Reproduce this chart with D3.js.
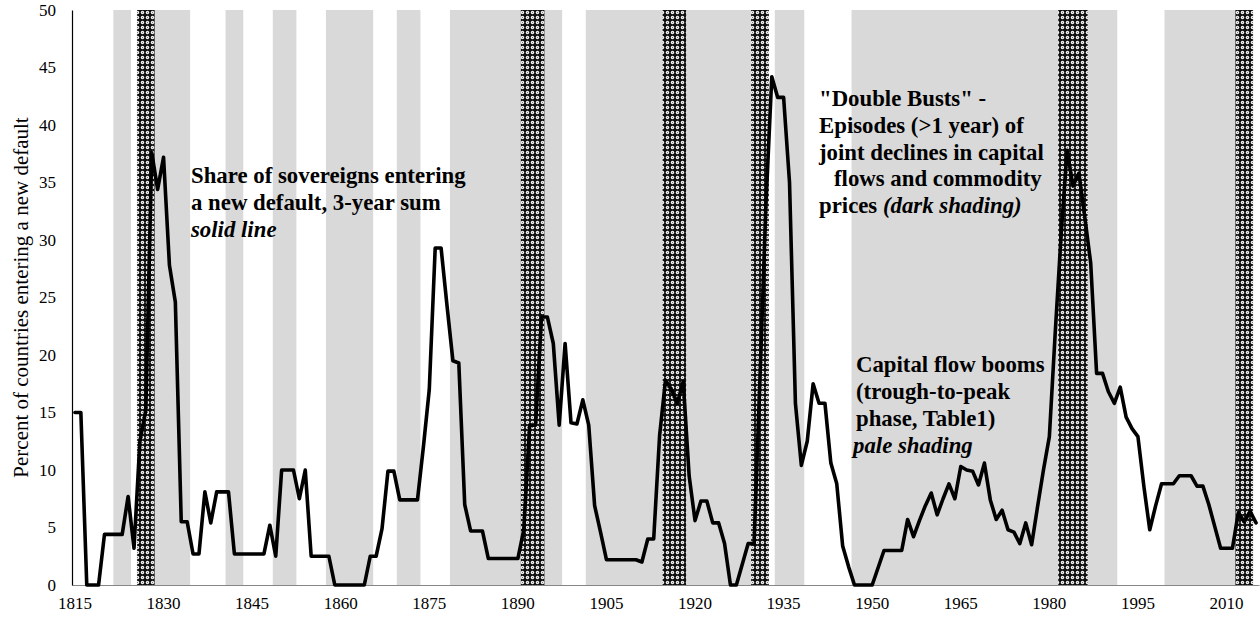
<!DOCTYPE html>
<html>
<head>
<meta charset="utf-8">
<script src="https://cdn.jsdelivr.net/npm/d3@7"></script>
<style>
  html, body { margin: 0; padding: 0; background: #fff; }
  svg { display: block; }
  text { font-family: "Liberation Serif", "Times New Roman", serif; fill: #000; }
</style>
</head>
<body>
<svg id="chart" width="1260" height="621"></svg>
<script>
// ---------------- data ----------------
const firstYear = 1815;
// Share of sovereigns entering a new default, 3-year sum (percent), 1815..2015
const defaultShare = [
  15, 15, 0, 0, 0, 4.4, 4.4, 4.4, 4.4, 7.7,            // 1815-1824
  3.2, 12.5, 15.2, 37.6, 34.4, 37.2, 27.8, 24.6, 5.5, 5.5, // 1825-1834
  2.7, 2.7, 8.1, 5.4, 8.1, 8.1, 8.1, 2.7, 2.7, 2.7,    // 1835-1844
  2.7, 2.7, 2.7, 5.2, 2.5, 10, 10, 10, 7.5, 10,        // 1845-1854
  2.5, 2.5, 2.5, 2.5, 0, 0, 0, 0, 0, 0,                // 1855-1864
  2.5, 2.5, 4.9, 9.9, 9.9, 7.4, 7.4, 7.4, 7.4, 12,     // 1865-1874
  17, 29.3, 29.3, 24.3, 19.5, 19.3, 7.0, 4.7, 4.7, 4.7, // 1875-1884
  2.3, 2.3, 2.3, 2.3, 2.3, 2.3, 4.8, 13.9, 13.9, 23.3, // 1885-1894
  23.3, 21, 13.9, 21, 14.1, 14, 16.1, 13.9, 6.9, 4.6,  // 1895-1904
  2.2, 2.2, 2.2, 2.2, 2.2, 2.2, 2.0, 4.0, 4.0, 13,     // 1905-1914
  17.8, 17, 15.8, 17.7, 9.5, 5.6, 7.3, 7.3, 5.4, 5.4,  // 1915-1924
  3.6, 0, 0, 1.8, 3.6, 3.6, 18, 33, 44.2, 42.4,        // 1925-1934
  42.4, 35, 15.8, 10.4, 12.5, 17.5, 15.8, 15.8, 10.6, 8.8, // 1935-1944
  3.4, 1.6, 0, 0, 0, 0, 1.5, 3.0, 3.0, 3.0,            // 1945-1954
  3.0, 5.7, 4.2, 5.6, 6.9, 8.0, 6.1, 7.5, 8.8, 7.5,    // 1955-1964
  10.3, 10.0, 9.9, 8.7, 10.6, 7.4, 5.7, 6.5, 4.8, 4.6, // 1965-1974
  3.6, 5.4, 3.5, 6.8, 10.0, 12.9, 22, 30.5, 37.8, 34.7, // 1975-1984
  35.8, 32, 28, 18.4, 18.4, 16.8, 15.8, 17.2, 14.6, 13.6, // 1985-1994
  12.9, 8.6, 4.8, 6.9, 8.8, 8.8, 8.8, 9.5, 9.5, 9.5,   // 1995-2004
  8.6, 8.6, 7.0, 5.1, 3.2, 3.2, 3.2, 6.3, 5.5, 6.4,    // 2005-2014
  5.4                                                  // 2015
];
const years = defaultShare.map((_, i) => firstYear + i);

// Capital flow booms (pale shading): [first year, last year]
const boomPeriods = [
  [1822, 1824], [1829, 1834], [1841, 1843], [1849, 1852], [1858, 1865],
  [1870, 1873], [1879, 1890], [1895, 1897], [1902, 1914], [1919, 1929],
  [1934, 1938], [1947, 1981], [1987, 1991], [2000, 2011]
];
// "Double busts" (dark shading): [first year, last year]
const bustPeriods = [
  [1826, 1828], [1891, 1894], [1915, 1918], [1930, 1932], [1982, 1986], [2012, 2014]
];

const xTickYears = [1815, 1830, 1845, 1860, 1875, 1890, 1905, 1920, 1935, 1950, 1965, 1980, 1995, 2010];
const yTicks = [0, 5, 10, 15, 20, 25, 30, 35, 40, 45, 50];
const yTitle = "Percent of countries entering a new default";

// ---------------- chart ----------------
const svg = d3.select("#chart");
const mLeft = 72, mRight = 1259, mTop = 10, mBottom = 585;

const x = d3.scaleBand().domain(years).range([mLeft, mRight]).padding(0);
const bw = x.bandwidth();
const cx = yr => x(yr) + bw / 2;
const y = d3.scaleLinear().domain([0, 50]).range([mBottom, mTop]);

// pattern for dark shading
const defs = svg.append("defs");
const pat = defs.append("pattern")
  .attr("id", "bust").attr("patternUnits", "userSpaceOnUse")
  .attr("width", 5).attr("height", 5);
pat.append("rect").attr("width", 5).attr("height", 5).attr("fill", "#111");
pat.append("circle").attr("cx", 2.5).attr("cy", 2.5).attr("r", 1.7).attr("fill", "#fff");
pat.append("circle").attr("cx", 2.5).attr("cy", 2.5).attr("r", 0.7).attr("fill", "#777");

// pale bands
svg.append("g").selectAll("rect").data(boomPeriods).join("rect")
  .attr("x", d => x(d[0]))
  .attr("width", d => x(d[1]) + bw - x(d[0]))
  .attr("y", y(50)).attr("height", y(0) - y(50))
  .attr("fill", "#d9d9d9");

// dark bands
svg.append("g").selectAll("rect").data(bustPeriods).join("rect")
  .attr("x", d => x(d[0]))
  .attr("width", d => x(d[1]) + bw - x(d[0]))
  .attr("y", y(50)).attr("height", y(0) - y(50))
  .attr("fill", "url(#bust)");

// axes
const xAxis = svg.append("g")
  .attr("transform", `translate(0,${mBottom})`)
  .call(d3.axisBottom(x).tickValues(xTickYears).tickSize(0).tickPadding(12));
xAxis.select(".domain").attr("stroke", "#868686").attr("stroke-width", 1.2);
xAxis.selectAll("text").attr("font-size", 17).attr("font-family", "Liberation Serif, serif").attr("fill", "#000");

const yAxis = svg.append("g")
  .attr("transform", `translate(${mLeft},0)`)
  .call(d3.axisLeft(y).tickValues(yTicks).tickSize(0).tickPadding(16));
yAxis.select(".domain").attr("stroke", "#000").attr("stroke-width", 1.2);
yAxis.selectAll("text").attr("font-size", 17).attr("font-family", "Liberation Serif, serif").attr("fill", "#000");

// y title
svg.append("text")
  .attr("transform", `translate(28,${(mTop + mBottom) / 2}) rotate(-90)`)
  .attr("text-anchor", "middle")
  .attr("font-size", 21)
  .text(yTitle);

// line
const line = d3.line().x((d, i) => cx(years[i])).y(d => y(d));
svg.append("path")
  .datum(defaultShare)
  .attr("d", line)
  .attr("fill", "none")
  .attr("stroke", "#000")
  .attr("stroke-width", 3.6)
  .attr("stroke-linejoin", "round")
  .attr("stroke-linecap", "round");

// annotations
function annot(x0, y0, lh, lines) {
  const g = svg.append("g");
  lines.forEach((ln, i) => {
    const t = g.append("text")
      .attr("x", x0 + (ln.dx || 0)).attr("y", y0 + i * lh)
      .attr("font-size", 22.8).attr("font-weight", "bold");
    ln.parts.forEach(p => {
      t.append("tspan").attr("font-style", p.it ? "italic" : "normal").text(p.t);
    });
  });
}
annot(191, 182.5, 27, [
  { parts: [{ t: "Share of sovereigns entering" }] },
  { parts: [{ t: "a new default, 3-year sum" }] },
  { parts: [{ t: "solid line", it: true }] }
]);
annot(819, 106, 26.8, [
  { parts: [{ t: "\"Double Busts\" -" }] },
  { parts: [{ t: "Episodes (>1 year) of" }] },
  { parts: [{ t: "joint declines in capital" }] },
  { dx: 15, parts: [{ t: "flows and commodity" }] },
  { parts: [{ t: "prices " }, { t: "(dark shading)", it: true }] }
]);
annot(856, 371.5, 27.2, [
  { parts: [{ t: "Capital flow booms" }] },
  { parts: [{ t: "(trough-to-peak" }] },
  { parts: [{ t: "phase, Table1)" }] },
  { dx: -3, parts: [{ t: "pale shading", it: true }] }
]);
</script>
</body>
</html>
